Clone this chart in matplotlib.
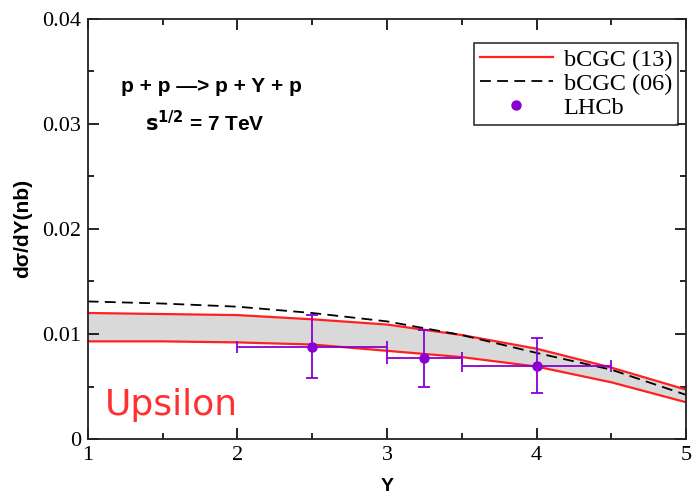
import numpy as np
import matplotlib
matplotlib.use('Agg')
from matplotlib import pyplot as plt
from matplotlib.lines import Line2D

# ---------------- data -------------------------------------------------------
y_rap = [1.0, 1.5, 2.0, 2.5, 3.0, 3.5, 4.0, 4.5, 5.0]
# bCGC (13) band : upper / lower edge
bcgc13_hi = [0.0120, 0.0119, 0.0118, 0.0114, 0.0109, 0.0099, 0.0086, 0.0068, 0.0047]
bcgc13_lo = [0.0093, 0.0093, 0.0092, 0.0090, 0.0084, 0.0078, 0.0069, 0.0054, 0.0035]
# bCGC (06)
bcgc06 = [0.0131, 0.0129, 0.0126, 0.0120, 0.0112, 0.0099, 0.0082, 0.0066, 0.0042]

# LHCb data
lhcb_y = [2.5, 3.25, 4.0]
lhcb_yerr_x = [0.5, 0.25, 0.5]
lhcb_val = [0.0088, 0.0077, 0.0070]
lhcb_err = [0.0030, 0.0027, 0.0026]

xticks = [1, 2, 3, 4, 5]
yticks = [0, 0.01, 0.02, 0.03, 0.04]
ytick_labels = ['0', '0.01', '0.02', '0.03', '0.04']
# ---------------------------------------------------------------------------

red = '#ff2020'
purple = '#8a00d2'
serif = 'Liberation Serif'
sans = 'Liberation Sans'

fig = plt.figure(figsize=(6.96, 4.95), dpi=100)
ax = fig.add_axes([0.126, 0.113, 0.86, 0.849])

# band + curves
ax.fill_between(y_rap, bcgc13_lo, bcgc13_hi, color='#d9d9d9', lw=0)
ax.plot(y_rap, bcgc13_hi, color=red, lw=1.6)
ax.plot(y_rap, bcgc13_lo, color=red, lw=1.6)
ax.plot(y_rap, bcgc06, color='black', lw=1.3, ls=(0, (6, 3.5)))
ax.errorbar(lhcb_y, lhcb_val, xerr=lhcb_yerr_x, yerr=lhcb_err, fmt='o',
            color=purple, ms=6.5, elinewidth=1.3, capsize=4.5, capthick=1.3)

# axes
ax.set_xlim(1, 5)
ax.set_ylim(0, 0.04)
ax.set_xticks(xticks)
ax.set_xticklabels([str(t) for t in xticks], fontfamily=serif, fontsize=16)
ax.set_yticks(yticks)
ax.set_yticklabels(ytick_labels, fontfamily=serif, fontsize=16)
ax.set_xticks([1.5, 2.5, 3.5, 4.5], minor=True)
ax.set_yticks([0.005, 0.015, 0.025, 0.035], minor=True)
ax.tick_params(which='both', direction='in', top=True, right=True, width=1.2)
ax.tick_params(which='major', length=8, pad=5)
ax.tick_params(which='minor', length=4.5)
for s in ax.spines.values():
    s.set_linewidth(1.3)
    s.set_color('#222222')

ax.set_xlabel('Y', fontfamily=sans, fontweight='bold', fontsize=14, labelpad=9)
ax.set_ylabel('d\u03c3/dY(nb)', fontfamily=sans, fontweight='bold', fontsize=15, labelpad=7)

# annotations
ax.text(0.206, 0.84, 'p + p \u2014> p + \u03a5 + p', transform=ax.transAxes,
        ha='center', va='center', fontfamily=sans, fontweight='bold', fontsize=15)
ax.text(0.196, 0.752, r'$\mathbf{s^{1/2}}$ = 7 TeV', transform=ax.transAxes,
        ha='center', va='center', fontfamily=sans, fontweight='bold', fontsize=15)
ax.text(0.028, 0.057, 'Upsilon', transform=ax.transAxes, color='#ff3030',
        fontfamily='DejaVu Sans', fontsize=26, ha='left', va='baseline')

# legend
handles = [Line2D([], [], color=red, lw=1.6),
           Line2D([], [], color='black', lw=1.3, ls=(0, (6, 3.5))),
           Line2D([], [], color=purple, marker='o', ms=6.5, ls='none')]
labels = ['bCGC (13)', 'bCGC (06)', 'LHCb']
leg = ax.legend(handles, labels, loc='upper right', bbox_to_anchor=(0.9866, 0.943),
                prop={'family': serif, 'size': 17.5},
                frameon=True, fancybox=False, edgecolor='black',
                handlelength=3.0, borderaxespad=0, labelspacing=0.08,
                handletextpad=0.45, borderpad=0.25)
leg.get_frame().set_linewidth(1.2)

plt.savefig('out.png', dpi=100)
